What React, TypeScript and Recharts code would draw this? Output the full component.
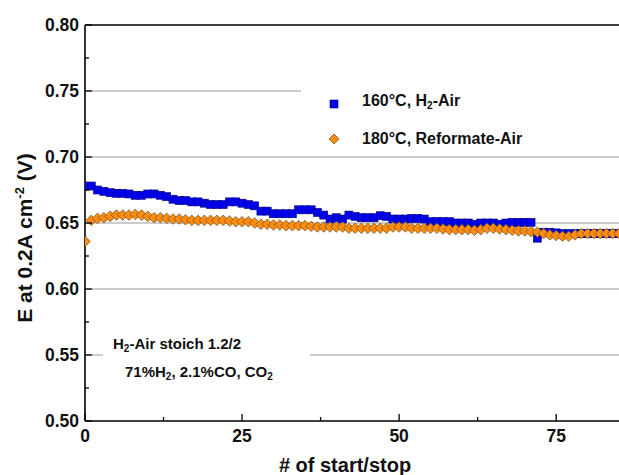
import React from 'react';
import { ScatterChart, Scatter, XAxis, YAxis, ReferenceLine } from 'recharts';

// # of start/stop cycles
const startStop = [
  0, 1, 2, 3, 4, 5, 6, 7, 8, 9, 10, 11, 12, 13, 14, 15, 16, 17, 18, 19,
  20, 21, 22, 23, 24, 25, 26, 27, 28, 29, 30, 31, 32, 33, 34, 35, 36, 37, 38, 39,
  40, 41, 42, 43, 44, 45, 46, 47, 48, 49, 50, 51, 52, 53, 54, 55, 56, 57, 58, 59,
  60, 61, 62, 63, 64, 65, 66, 67, 68, 69, 70, 71, 72, 73, 74, 75, 76, 77, 78, 79,
  80, 81, 82, 83, 84, 85,
];

// 160°C, H2-Air
const h2Air = [
  0.678, 0.678, 0.675, 0.674, 0.673, 0.6725, 0.6725, 0.672, 0.671, 0.671,
  0.672, 0.672, 0.671, 0.67, 0.668, 0.667, 0.667, 0.666, 0.666, 0.665,
  0.664, 0.664, 0.664, 0.666, 0.666, 0.665, 0.664, 0.663, 0.659, 0.659,
  0.657, 0.657, 0.657, 0.657, 0.66, 0.66, 0.66, 0.658, 0.656, 0.653,
  0.654, 0.653, 0.656, 0.655, 0.654, 0.654, 0.654, 0.6555, 0.655, 0.653,
  0.653, 0.653, 0.6535, 0.6535, 0.653, 0.651, 0.651, 0.651, 0.651, 0.65,
  0.65, 0.65, 0.649, 0.65, 0.65, 0.65, 0.649, 0.65, 0.6505, 0.6505,
  0.6505, 0.6505, 0.6385, 0.643, 0.643, 0.6425, 0.642, 0.642, 0.642, 0.642,
  0.642, 0.642, 0.642, 0.642, 0.642, 0.642,
];

// 180°C, Reformate-Air
const reformateAir = [
  0.636, 0.652, 0.6535, 0.654, 0.655, 0.656, 0.656, 0.656, 0.6565, 0.656,
  0.655, 0.654, 0.654, 0.6535, 0.653, 0.653, 0.6525, 0.652, 0.652, 0.652,
  0.652, 0.652, 0.652, 0.6515, 0.651, 0.651, 0.651, 0.65, 0.649, 0.649,
  0.6485, 0.6485, 0.648, 0.648, 0.648, 0.648, 0.6475, 0.647, 0.647, 0.647,
  0.647, 0.647, 0.646, 0.646, 0.646, 0.646, 0.646, 0.646, 0.646, 0.647,
  0.647, 0.647, 0.646, 0.646, 0.646, 0.646, 0.646, 0.6455, 0.645, 0.645,
  0.645, 0.645, 0.6445, 0.645, 0.646, 0.646, 0.6455, 0.645, 0.6445, 0.644,
  0.644, 0.6435, 0.643, 0.642, 0.641, 0.6405, 0.64, 0.64, 0.641, 0.642,
  0.642, 0.642, 0.642, 0.642, 0.642, 0.642,
];

const xTicks = [0, 12.5, 25, 37.5, 50, 62.5, 75];
const xMajorTicks = [0, 25, 50, 75];
const yTicks = [0.5, 0.525, 0.55, 0.575, 0.6, 0.625, 0.65, 0.675, 0.7, 0.725, 0.75, 0.775, 0.8];
const yMajorTicks = [0.5, 0.55, 0.6, 0.65, 0.7, 0.75, 0.8];
const gridLevels = [0.55, 0.6, 0.65, 0.7, 0.75];

const h2Data = startStop.map((x, i) => ({ x, y: h2Air[i] }));
const refData = startStop.map((x, i) => ({ x, y: reformateAir[i] }));

const FONT = '"Liberation Sans", Arial, Helvetica, sans-serif';

const isIn = (arr: number[], v: number) => arr.some((t) => Math.abs(t - v) < 1e-6);

const YTick = (props: any) => {
  const { x, y, payload } = props;
  const v = payload.value;
  const major = isIn(yMajorTicks, v);
  return (
    <g>
      <line x1={x} x2={x + (major ? 7 : 4)} y1={y} y2={y} stroke="#000" strokeWidth={1.3} />
      {major && (
        <text x={x - 6} y={y} dy="0.36em" textAnchor="end" fontFamily={FONT} fontWeight="bold" fontSize={17.5} fill="#111">
          {v.toFixed(2)}
        </text>
      )}
    </g>
  );
};

const XTick = (props: any) => {
  const { x, y, payload } = props;
  const v = payload.value;
  const major = isIn(xMajorTicks, v);
  return (
    <g>
      <line x1={x} x2={x} y1={y} y2={y - (major ? 7 : 4)} stroke="#000" strokeWidth={1.3} />
      {major && (
        <text x={x} y={y + 21} textAnchor="middle" fontFamily={FONT} fontWeight="bold" fontSize={17.5} fill="#111">
          {String(v)}
        </text>
      )}
    </g>
  );
};

const SquareMark = (props: any) => {
  const { cx, cy } = props;
  return <rect x={cx - 4} y={cy - 4} width={8} height={8} fill="#0000ee" stroke="#00007a" strokeWidth={0.6} />;
};

const DiamondMark = (props: any) => {
  const { cx, cy } = props;
  const r = 5.3;
  return (
    <polygon
      points={`${cx},${cy - r} ${cx + r},${cy} ${cx},${cy + r} ${cx - r},${cy}`}
      fill="#fb8c10"
      stroke="#6e4a1e"
      strokeWidth={0.7}
    />
  );
};

const sub = { fontSize: 10, verticalAlign: -3 } as const;

export default function App() {
  return (
    <div style={{ position: 'absolute', left: 0, top: 0, width: 619, height: 475, background: '#fff', overflow: 'hidden' }}>
      <ScatterChart width={619} height={475} margin={{ top: 25, right: 0, bottom: 24, left: 20 }}>
        <XAxis
          type="number"
          dataKey="x"
          domain={[0, 85]}
          ticks={xTicks}
          interval={0}
          allowDataOverflow
          tickLine={false}
          tickSize={0}
          tickMargin={0}
          tick={<XTick />}
          height={30}
          axisLine={{ stroke: '#000', strokeWidth: 1.6 }}
        />
        <YAxis
          type="number"
          dataKey="y"
          domain={[0.5, 0.8]}
          ticks={yTicks}
          interval={0}
          allowDataOverflow
          tickLine={false}
          tickSize={0}
          tickMargin={0}
          tick={<YTick />}
          width={65}
          axisLine={{ stroke: '#000', strokeWidth: 1.6 }}
        />
        {gridLevels.map((g) => (
          <ReferenceLine key={g} y={g} stroke="#9a9a9a" strokeWidth={1} />
        ))}
        <ReferenceLine y={0.8} stroke="#000" strokeWidth={1.4} />
        <Scatter data={h2Data} shape={<SquareMark />} isAnimationActive={false} />
        <Scatter data={refData} shape={<DiamondMark />} isAnimationActive={false} />
      </ScatterChart>

      {/* Legend */}
      <div
        style={{
          position: 'absolute', left: 301, top: 84, width: 318, height: 68, background: '#fff',
          fontFamily: FONT, fontWeight: 'bold', fontSize: 16, color: '#111',
        }}
      >
        <div style={{ position: 'absolute', left: 28, top: 8, display: 'flex', alignItems: 'center' }}>
          <svg width={10} height={10}><rect x={1} y={1} width={8} height={8} fill="#0000ee" stroke="#00007a" strokeWidth={0.6} /></svg>
          <span style={{ marginLeft: 23, lineHeight: '18px' }}>160°C, H<sub style={sub}>2</sub>-Air</span>
        </div>
        <div style={{ position: 'absolute', left: 27, top: 46, display: 'flex', alignItems: 'center' }}>
          <svg width={12} height={12}><polygon points="6,1 11,6 6,11 1,6" fill="#fb8c10" stroke="#6e4a1e" strokeWidth={0.7} /></svg>
          <span style={{ marginLeft: 22, lineHeight: '18px' }}>180°C, Reformate-Air</span>
        </div>
      </div>

      {/* Annotation */}
      <div
        style={{
          position: 'absolute', left: 103, top: 333, width: 207, height: 54, background: '#fff',
          fontFamily: FONT, fontWeight: 'bold', fontSize: 15, color: '#111',
        }}
      >
        <div style={{ position: 'absolute', left: 10, top: 2, lineHeight: '17px', whiteSpace: 'nowrap' }}>
          H<sub style={sub}>2</sub>-Air stoich 1.2/2
        </div>
        <div style={{ position: 'absolute', left: 22, top: 30, lineHeight: '17px', whiteSpace: 'nowrap' }}>
          71%H<sub style={sub}>2</sub>, 2.1%CO, CO<sub style={sub}>2</sub>
        </div>
      </div>

      {/* Axis titles */}
      <svg width={619} height={475} style={{ position: 'absolute', left: 0, top: 0, pointerEvents: 'none' }}>
        <text x={345} y={472} textAnchor="middle" fontFamily={FONT} fontWeight="bold" fontSize={20} fill="#111">
          # of start/stop
        </text>
        <text
          transform="translate(32,238) rotate(-90)"
          textAnchor="middle"
          fontFamily={FONT}
          fontWeight="bold"
          fontSize={21}
          fill="#111"
        >
          E at 0.2A cm<tspan dy={-8} fontSize={13}>-2</tspan><tspan dy={8}> (V)</tspan>
        </text>
      </svg>
    </div>
  );
}
